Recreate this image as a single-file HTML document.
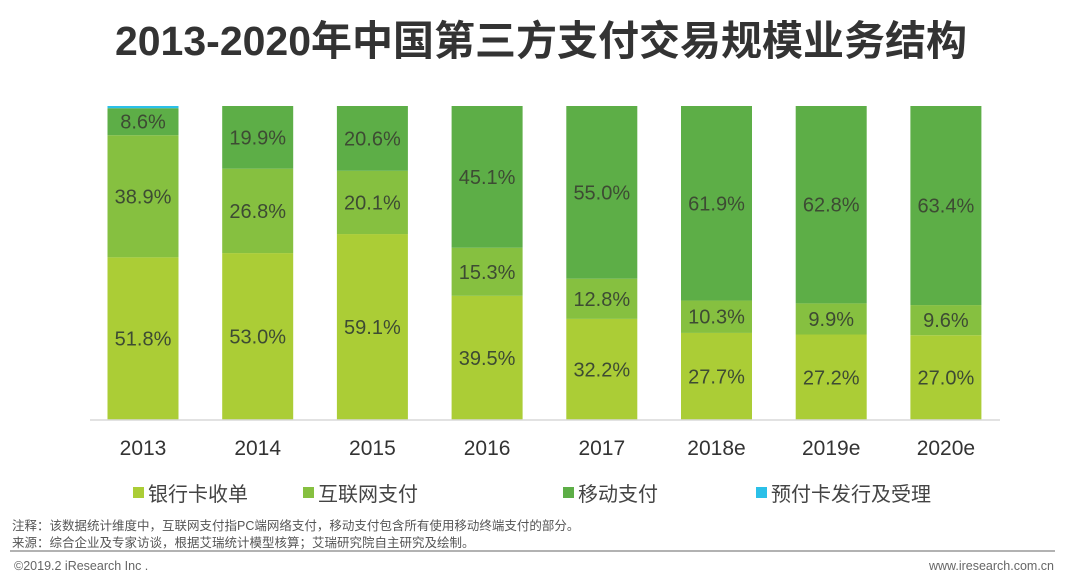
<!DOCTYPE html>
<html><head><meta charset="utf-8"><style>
body{margin:0;width:1080px;height:579px;background:#fff;overflow:hidden;font-family:"Liberation Sans","Noto Sans CJK SC",sans-serif;}
</style></head><body>
<svg width="1080" height="579" xmlns="http://www.w3.org/2000/svg">
<text x="541" y="55" text-anchor="middle" font-size="41" font-weight="bold" fill="#333" font-family="Liberation Sans, Noto Sans CJK SC, sans-serif">2013-2020年中国第三方支付交易规模业务结构</text>
<g id="bars"></g>
<line x1="90" y1="420" x2="1000" y2="420" stroke="#d8d8d8" stroke-width="1.5"/>
<g id="xlabels"></g>
<g id="legend"></g>
<text x="12" y="530" font-size="12.5" fill="#555">注释：该数据统计维度中，互联网支付指PC端网络支付，移动支付包含所有使用移动终端支付的部分。</text>
<text x="12" y="547" font-size="12.5" fill="#555">来源：综合企业及专家访谈，根据艾瑞统计模型核算；艾瑞研究院自主研究及绘制。</text>
<line x1="10" y1="551" x2="1055" y2="551" stroke="#999" stroke-width="1.5"/>
<text x="14" y="570" font-size="12.5" fill="#666">©2019.2 iResearch Inc .</text>
<text x="1054" y="570" font-size="12.5" fill="#666" text-anchor="end">www.iresearch.com.cn</text>
</svg>
<script>
const categories=["2013","2014","2015","2016","2017","2018e","2019e","2020e"];
const bankCard=[51.8,53.0,59.1,39.5,32.2,27.7,27.2,27.0];
const internet=[38.9,26.8,20.1,15.3,12.8,10.3,9.9,9.6];
const mobile=[8.6,19.9,20.6,45.1,55.0,61.9,62.8,63.4];
const prepaid=[0.7,0.0,0.0,0.0,0.0,0.0,0.0,0.0];
const seriesNames=["银行卡收单","互联网支付","移动支付","预付卡发行及受理"];
const colors=["#abcd36","#86c040","#5dae47","#2bc0e8"];
const ns="http://www.w3.org/2000/svg";
const top0=106,bottom0=420,x0=143,step=114.7,bw=71;
const y=v=>bottom0-v/100*(bottom0-top0);
const xc=i=>x0+i*step;
const bars=document.getElementById('bars');
const series=[bankCard,internet,mobile,prepaid];
categories.forEach((c,i)=>{
  let cum=0;
  const total=bankCard[i]+internet[i]+mobile[i]+prepaid[i];
  const sc=100/total;
  series.forEach((s,k)=>{
    const v=s[i]*sc;
    const r=document.createElementNS(ns,'rect');
    r.setAttribute('x',xc(i)-bw/2);r.setAttribute('width',bw);
    r.setAttribute('y',y(cum+v));r.setAttribute('height',Math.max(0,y(cum)-y(cum+v)));
    r.setAttribute('fill',colors[k]);
    
    
    bars.appendChild(r);
    if(k<3){
      const t=document.createElementNS(ns,'text');
      t.setAttribute('x',xc(i));t.setAttribute('y',(y(cum)+y(cum+v))/2+7);
      t.setAttribute('text-anchor','middle');t.setAttribute('font-size','20');t.setAttribute('fill','#3d4b33');
      t.textContent=s[i].toFixed(1)+'%';
      
      
      bars.appendChild(t);
    }
    cum+=v;
  });
  const xl=document.createElementNS(ns,'text');
  xl.setAttribute('x',xc(i));xl.setAttribute('y',455);xl.setAttribute('text-anchor','middle');
  xl.setAttribute('font-size','21');xl.setAttribute('fill','#333');xl.textContent=c;
  
  
  document.getElementById('xlabels').appendChild(xl);
});
const lx=[133,303,563,756];
const lg=document.getElementById('legend');
seriesNames.forEach((n,k)=>{
  const r=document.createElementNS(ns,'rect');
  r.setAttribute('x',lx[k]);r.setAttribute('y',487);r.setAttribute('width',11);r.setAttribute('height',11);r.setAttribute('fill',colors[k]);
  
  
  lg.appendChild(r);
  const t=document.createElementNS(ns,'text');
  t.setAttribute('x',lx[k]+15);t.setAttribute('y',501);t.setAttribute('font-size','20');t.setAttribute('fill','#444');t.textContent=n;
  
  
  lg.appendChild(t);
});
</script>
</body></html>
